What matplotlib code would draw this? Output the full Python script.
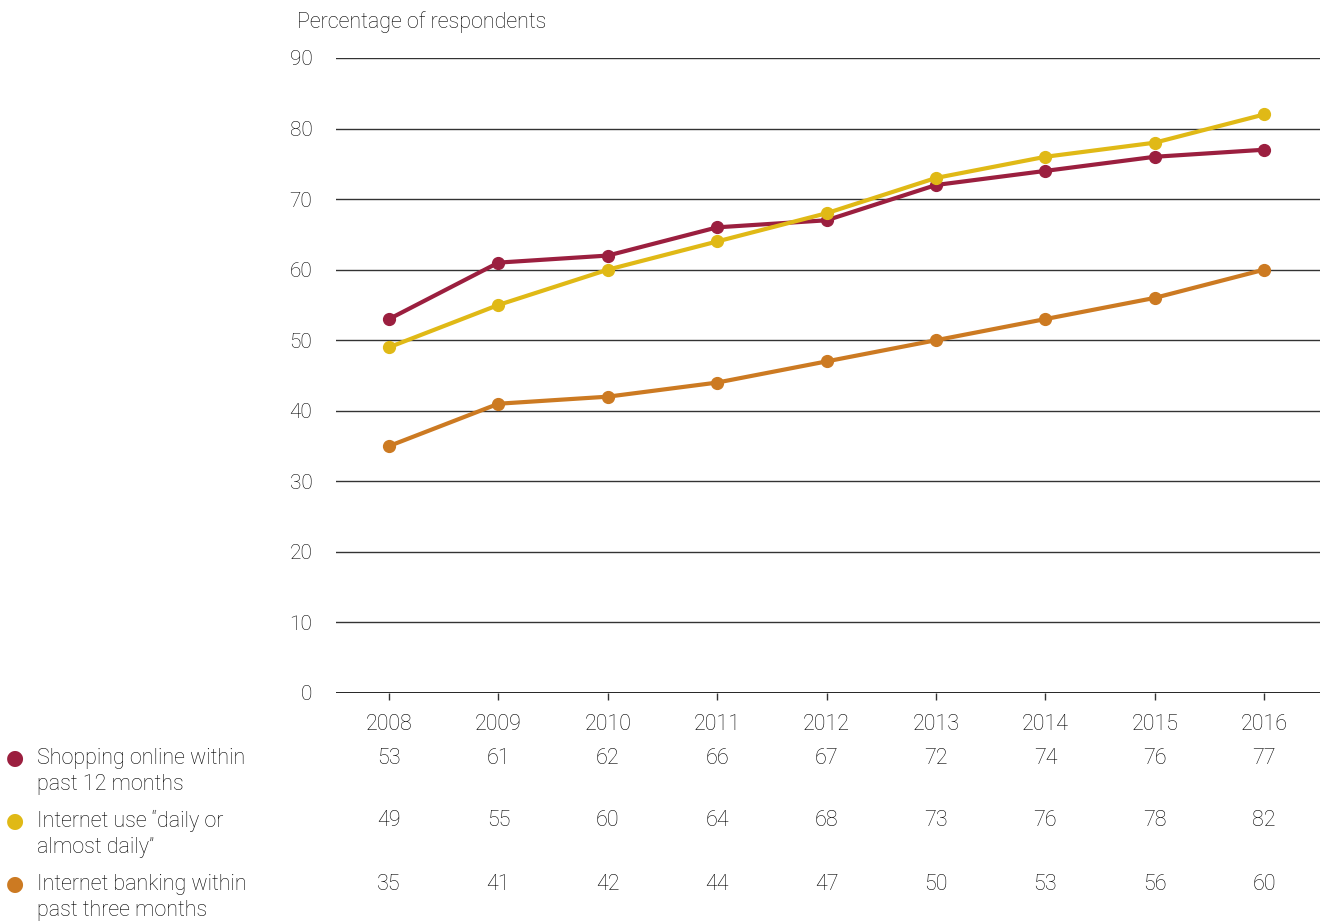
import matplotlib
matplotlib.use("Agg")
import matplotlib.pyplot as plt

plt.rcParams["font.family"] = ["Roboto", "DejaVu Sans"]
plt.rcParams["font.weight"] = "light"

years = [2008, 2009, 2010, 2011, 2012, 2013, 2014, 2015, 2016]
shopping = [53, 61, 62, 66, 67, 72, 74, 76, 77]
daily_use = [49, 55, 60, 64, 68, 73, 76, 78, 82]
banking = [35, 41, 42, 44, 47, 50, 53, 56, 60]

series_labels = [
    ["Shopping online within", "past 12 months"],
    ["Internet use \u201cdaily or", "almost daily\u201d"],
    ["Internet banking within", "past three months"],
]
series_colors = ["#9B1F3F", "#E0B916", "#CC7A22"]
yticks = [0, 10, 20, 30, 40, 50, 60, 70, 80, 90]

text_col = "#000000"
W, H = 1325, 922

fig = plt.figure(figsize=(W / 100, H / 100), dpi=100)
ax = fig.add_axes([336 / W, 1 - 693 / H, (1320 - 336) / W, (693 - 58) / H])

for vals, col in zip([shopping, daily_use, banking], series_colors):
    ax.plot(years, vals, color=col, lw=3, marker="o", ms=8.5, zorder=3,
            solid_capstyle="round")

ax.set_xlim(2007.515, 2016.51)
ax.set_ylim(0, 90)
ax.set_yticks(yticks)
ax.set_xticks(years)
ax.set_xticklabels([str(y) for y in years])
for y in yticks[1:]:
    ax.axhline(y, color="#333333", lw=1, zorder=1)
ax.axhline(0, color="#111111", lw=2, zorder=2)

for s in ax.spines.values():
    s.set_visible(False)
ax.tick_params(axis="y", length=0, pad=17, labelsize=15, labelcolor=text_col)
ax.tick_params(axis="x", length=5, width=1, color="#333333", direction="out",
               pad=10, labelsize=15.5, labelcolor=text_col)

fig.text(297 / W, 1 - 22 / H, "Percentage of respondents", fontsize=15.5,
         color=text_col, ha="left", va="center")

# value table under the chart
row_y = [758, 821, 884]
for vals, lines, col, ry in zip([shopping, daily_use, banking], series_labels,
                                series_colors, row_y):
    fy = 1 - ry / H
    fig.text(15 / W, fy, "\u25cf", color=col, fontsize=15, ha="center",
             va="center", family="DejaVu Sans", fontweight="normal")
    for k, line in enumerate(lines):
        fig.text(37 / W, 1 - (ry + 26 * k) / H, line, fontsize=15.5,
                 color=text_col, ha="left", va="center")
    for yr, v in zip(years, vals):
        xf = ax.transData.transform((yr, 0))[0] / W
        fig.text(xf, fy, str(v), fontsize=15.5, color=text_col, ha="center",
                 va="center")

fig.savefig("out.png", dpi=100)
